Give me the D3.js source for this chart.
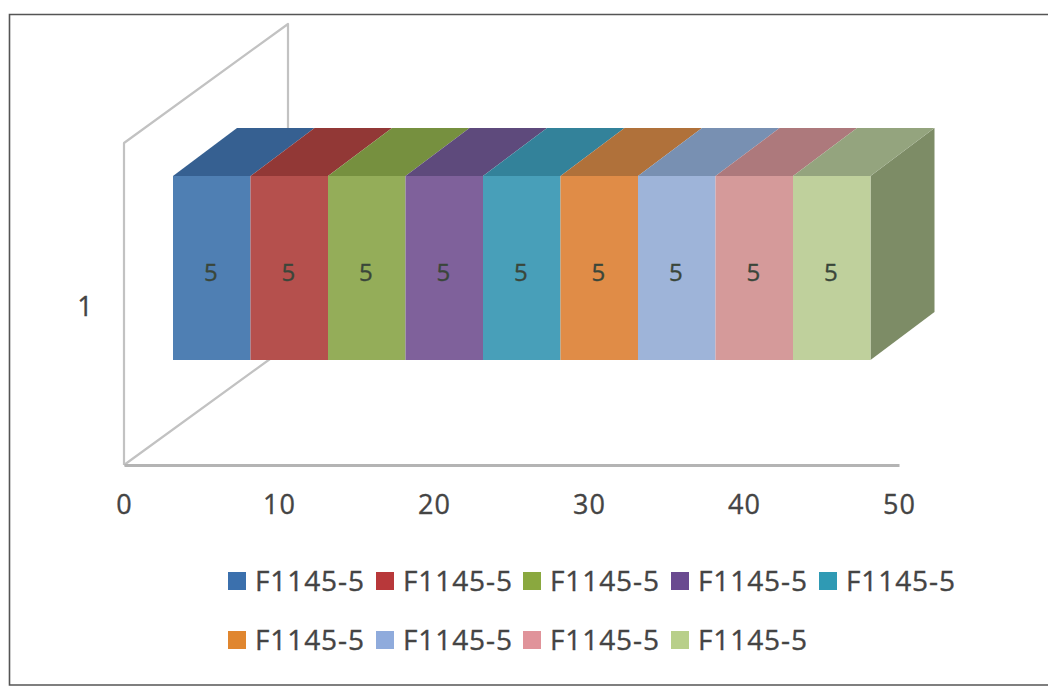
<!DOCTYPE html>
<html>
<head>
<meta charset="utf-8">
<script src="https://cdn.jsdelivr.net/npm/d3@7/dist/d3.min.js"></script>
<style>
html,body{margin:0;padding:0;background:#fff}
svg{display:block}
text{font-family:"Open Sans",sans-serif;fill:#444;stroke:#444;stroke-width:0.35px}
</style>
</head>
<body>
<svg id="chart" width="1048" height="686"></svg>
<script>
const categories = ["1"];
const seriesNames = ["F1145-5","F1145-5","F1145-5","F1145-5","F1145-5","F1145-5","F1145-5","F1145-5","F1145-5"];
const seriesValues = [5,5,5,5,5,5,5,5,5];
const xTicks = [0,10,20,30,40,50];
const frontColors = ["#4f7fb3","#b5504d","#94ad59","#7f619b","#489fb9","#e08c47","#9eb4d9","#d59a9a","#bfd09c"];
const topColors = ["#366091","#923836","#76903f","#5e4a7c","#33829a","#b0713a","#7890b2","#ad797c","#94a47e"];
const legendColors = ["#3b70ad","#b8383a","#8aa83f","#6a4a90","#2f9ab4","#e0862f","#8fabdc","#e0939a","#b8cf8a"];
const sideColor = "#7d8c66";

const svg = d3.select("#chart");

// Picture frame: open on the right-hand side
svg.append("path").attr("d","M1048,14.5H9.5V685H1048").attr("fill","none")
  .attr("stroke","#555").attr("stroke-width",1.6);

// Axis-plane scales and the oblique projection offsets
const x = d3.scaleLinear().domain([0,50]).range([124,899]);
const y = d3.scaleBand().domain(categories).range([143,465]).paddingInner(0).paddingOuter(0.375);
const wallDepth = {dx:164, dy:-119};
const barShift = {dx:49, dy:-36};
const barDepth = {dx:64, dy:-48};
const line = d3.line();

// Side wall of the 3D plot box
const wall = [[124,465],[124,143],[124+wallDepth.dx,143+wallDepth.dy],[124+wallDepth.dx,465+wallDepth.dy],[124,465]];
svg.append("path").attr("d",line(wall)).attr("fill","none")
  .attr("stroke","#c2c2c2").attr("stroke-width",2.2).attr("stroke-linejoin","round");

// Value axis along the floor
const axis = d3.axisBottom(x).tickValues(xTicks).tickSize(0).tickPadding(30).tickFormat(d3.format("d"));
const axisG = svg.append("g").attr("transform","translate(0,465)").call(axis);
axisG.select(".domain").attr("stroke","#b4b4b4").attr("stroke-width",3);
axisG.selectAll("text").attr("font-size",27).attr("font-family","Open Sans").attr("letter-spacing",1).attr("fill","#444");

// Category label
svg.selectAll(".cat").data(categories).join("text").attr("class","cat")
  .attr("x",85).attr("y",c=>y(c)+y.bandwidth()/2+3).attr("dy","0.35em")
  .attr("text-anchor","middle").attr("font-size",27).text(c=>c);

// Stack the series along the value axis
const stacked = [];
seriesValues.reduce((acc,v,i)=>{stacked.push({i,start:acc,end:acc+v,value:v});return acc+v;},0);
const cat = categories[0];
const yTop = y(cat)+barShift.dy, yBot = yTop+y.bandwidth();
const px = v => x(v)+barShift.dx;

// Right side of the last segment
const last = stacked[stacked.length-1];
svg.append("path").attr("fill",sideColor).attr("d",line([
  [px(last.end),yTop],[px(last.end)+barDepth.dx,yTop+barDepth.dy],
  [px(last.end)+barDepth.dx,yBot+barDepth.dy],[px(last.end),yBot]])+"Z");

// Top faces
svg.selectAll(".top").data(stacked).join("path").attr("class","top")
  .attr("fill",d=>topColors[d.i])
  .attr("d",d=>line([[px(d.start),yTop],[px(d.start)+barDepth.dx,yTop+barDepth.dy],
    [px(d.end)+barDepth.dx,yTop+barDepth.dy],[px(d.end),yTop]])+"Z");

// Front faces
svg.selectAll(".front").data(stacked).join("rect").attr("class","front")
  .attr("x",d=>px(d.start)).attr("y",yTop)
  .attr("width",d=>px(d.end)-px(d.start)).attr("height",y.bandwidth())
  .attr("fill",d=>frontColors[d.i]);

// Value labels
svg.selectAll(".val").data(stacked).join("text").attr("class","val")
  .attr("x",d=>(px(d.start)+px(d.end))/2-1).attr("y",(yTop+yBot)/2+5).attr("dy","0.35em")
  .attr("text-anchor","middle").attr("font-size",24)
  .style("fill","#3a463a").style("stroke","#3a463a").text(d=>d.value);

// Legend: five entries on the first row, four on the second
const legendX = d3.scaleOrdinal().domain(d3.range(5)).range([229,377,524,672,820]);
const legendY = d3.scalePoint().domain([0,1]).range([581,640]);
const entries = seriesNames.map((name,i)=>({name,i,row:Math.floor(i/5),col:i%5}));
const lg = svg.selectAll(".lg").data(entries).join("g").attr("class","lg")
  .attr("transform",d=>`translate(${legendX(d.col)},${legendY(d.row)})`);
lg.append("rect").attr("x",-1).attr("y",-9).attr("width",18).attr("height",18).attr("fill",d=>legendColors[d.i]);
lg.append("text").attr("x",26).attr("dy","0.36em").attr("font-size",28).attr("letter-spacing",0.9).text(d=>d.name);
</script>
</body>
</html>
